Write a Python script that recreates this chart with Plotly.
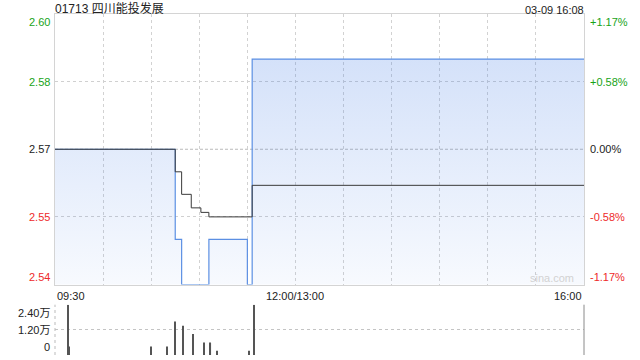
import plotly.graph_objects as go

# ---------------- data ----------------
title_text = "01713 四川能投发展"
stamp_text = "03-09 16:08"
prev_close = 2.57

price_times = ["09:30", "10:45", "10:49", "11:06", "11:30", "11:33", "16:00"]
price_vals = [2.57, 2.55, 2.54, 2.55, 2.54, 2.59, 2.59]

avg_times = ["09:30", "10:45", "10:49", "10:55", "11:01", "11:06", "11:33", "16:00"]
avg_vals = [2.57, 2.565, 2.560, 2.557, 2.556, 2.555, 2.562, 2.562]

vol_times = ["09:38", "09:39", "10:30", "10:40", "10:45", "10:50", "10:56",
             "11:03", "11:07", "11:11", "11:31", "11:34"]
vol_vals = [24000, 4000, 4000, 4000, 16000, 14000, 10000,
            6000, 6000, 2000, 2000, 24000]

price_ticks = [2.60, 2.585, 2.57, 2.555, 2.54]
price_tick_text = ["2.60", "2.58", "2.57", "2.55", "2.54"]
pct_tick_text = ["+1.17%", "+0.58%", "0.00%", "-0.58%", "-1.17%"]

vol_ticks = [24000, 12000, 0]
vol_tick_text = ["2.40万", "1.20万", "0"]

time_ticks = [0, 150, 330]
time_tick_text = ["09:30", "12:00/13:00", "16:00"]


def tmin(s):
    h, m = map(int, s.split(":"))
    t = h * 60 + m
    return t - 570 if t <= 720 else t - 780 + 150


FONT = "Arial, 'Liberation Sans', 'Noto Sans CJK SC', sans-serif"
GREEN = "#17a317"
RED = "#ee2a2a"
DARK = "#222222"

fig = go.Figure()

fig.add_trace(go.Scatter(
    x=[tmin(t) for t in price_times], y=price_vals, mode="lines",
    line=dict(color="#5b8fe3", width=1.2, shape="hv"),
    fill="tozeroy",
    fillgradient=dict(type="vertical",
                      colorscale=[[0, "rgba(60,120,230,0.04)"], [1, "rgba(60,120,230,0.22)"]],
                      start=2.54, stop=2.59),
    xaxis="x", yaxis="y", hoverinfo="skip"))

fig.add_trace(go.Scatter(
    x=[tmin(t) for t in avg_times], y=avg_vals, mode="lines",
    line=dict(color="#3a3a3a", width=1, shape="hv"),
    xaxis="x", yaxis="y", hoverinfo="skip"))

fig.add_trace(go.Bar(
    x=[tmin(t) for t in vol_times], y=vol_vals, width=0.7,
    marker=dict(color="#555555", line_width=0),
    xaxis="x2", yaxis="y2", hoverinfo="skip"))

MAIN_DOM = [0.2067, 1]
VOL_DOM = [0, 0.1475]

fig.update_layout(
    width=640, height=360,
    margin=dict(l=55, r=56, t=14, b=5),
    paper_bgcolor="white", plot_bgcolor="white",
    showlegend=False,
    font=dict(family=FONT, size=11, color=DARK),
    xaxis=dict(domain=[0, 1], range=[0, 330], tickvals=list(range(30, 330, 30)),
               showticklabels=False, ticks="", showgrid=True, gridcolor="#d2d2d2",
               griddash="dot", gridwidth=1, showline=True, mirror=True,
               linecolor="#d4d4d4", zeroline=False, anchor="y"),
    yaxis=dict(domain=MAIN_DOM, range=[2.54, 2.60], tickvals=[2.555, 2.585],
               showticklabels=False, ticks="", showgrid=True, gridcolor="#d0d0d0",
               griddash="dot", showline=True, mirror=True, linecolor="#d4d4d4",
               zeroline=False, anchor="x"),
    xaxis2=dict(domain=[0, 1], range=[0, 330], showgrid=False, showticklabels=False,
                ticks="", zeroline=False, showline=False, anchor="y2"),
    yaxis2=dict(domain=VOL_DOM, range=[0, 24000], tickvals=[0, 12000, 24000],
                showticklabels=False, ticks="", showgrid=True, gridcolor="#c4c4c4",
                griddash="dot", zeroline=False, showline=False, anchor="x2"),
)

shapes = [
    dict(type="line", xref="x domain", x0=0, x1=1, yref="y", y0=prev_close, y1=prev_close,
         line=dict(color="#bababa", width=1, dash="3px,2px"), layer="below"),
    dict(type="line", xref="x2 domain", x0=0, x1=0, yref="y2 domain", y0=0, y1=1,
         line=dict(color="#bbbbbb", width=1, dash="dot")),
    dict(type="line", xref="x2 domain", x0=1, x1=1, yref="y2 domain", y0=0, y1=1,
         line=dict(color="#8a8a8a", width=1)),
]
fig.update_layout(shapes=shapes)

ann = []


def col(v):
    if abs(v - prev_close) < 1e-9:
        return DARK
    return GREEN if v > prev_close else RED


for i, (v, t, p) in enumerate(zip(price_ticks, price_tick_text, pct_tick_text)):
    ya = "top" if i == 0 else ("bottom" if i == len(price_ticks) - 1 else "middle")
    ann.append(dict(xref="paper", x=0, xanchor="right", xshift=-3, yref="y", y=v,
                    yanchor=ya, text=t, showarrow=False, font=dict(color=col(v), size=11)))
    ann.append(dict(xref="paper", x=1, xanchor="left", xshift=4, yref="y", y=v,
                    yanchor=ya, text=p, showarrow=False, font=dict(color=col(v), size=11)))

for i, (v, t) in enumerate(zip(vol_ticks, vol_tick_text)):
    ya = "top" if i == 0 else ("bottom" if i == len(vol_ticks) - 1 else "middle")
    ann.append(dict(xref="paper", x=0, xanchor="right", xshift=-3, yref="y2", y=v,
                    yanchor=ya, text=t, showarrow=False, font=dict(color=DARK, size=11)))

for i, (v, t) in enumerate(zip(time_ticks, time_tick_text)):
    xa = "left" if i == 0 else ("right" if i == len(time_ticks) - 1 else "center")
    ann.append(dict(xref="x", x=v, xanchor=xa, yref="paper", y=MAIN_DOM[0],
                    yanchor="top", yshift=-3, text=t, showarrow=False,
                    font=dict(color=DARK, size=11)))

ann.append(dict(xref="paper", x=0, xanchor="left", xshift=-2, yref="paper", y=1,
                yanchor="bottom", yshift=-4, text=title_text, showarrow=False,
                font=dict(color=DARK, size=12)))
ann.append(dict(xref="paper", x=1, xanchor="right", xshift=2, yref="paper", y=1,
                yanchor="bottom", yshift=-4, text=stamp_text, showarrow=False,
                font=dict(color=DARK, size=11)))
ann.append(dict(xref="paper", x=1, xanchor="right", xshift=-8, yref="y", y=2.54,
                yanchor="bottom", yshift=-1, text="sina.com", showarrow=False,
                font=dict(color="#d2d2d2", size=11)))

fig.update_layout(annotations=ann)

fig.write_html("out.html")
